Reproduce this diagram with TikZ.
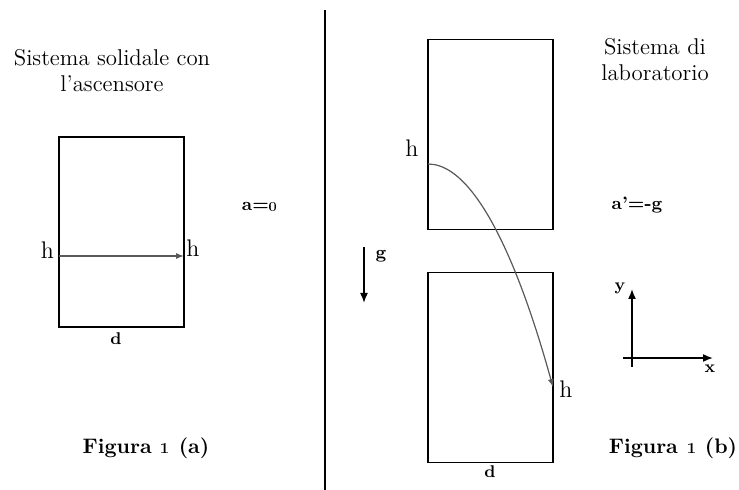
\documentclass[tikz,border=0pt]{standalone}
\usepackage{tikz}
\usetikzlibrary{arrows.meta,positioning}

\begin{document}
\begin{tikzpicture}[
    x=0.5pt, y=-0.5pt,
    >={Latex[length=4pt,width=3pt]},
    cabin/.style={draw, line width=0.8pt, minimum width=62.5pt,
                  minimum height=95pt, inner sep=0pt},
    title/.style={align=center, font=\fontsize{11.4}{13}\selectfont, inner sep=0pt},
    caption/.style={font=\fontsize{10.5}{12}\selectfont\bfseries, inner sep=0pt},
    eqn/.style={font=\fontsize{9}{11}\selectfont\bfseries, inner sep=0pt},
    tag/.style={font=\fontsize{12}{14}\selectfont, inner sep=0pt},
    small/.style={font=\fontsize{8.5}{10}\selectfont\bfseries, inner sep=0pt},
    traj/.style={->, draw=black!65, line width=0.6pt},
    axis/.style={-{Latex[length=5pt,width=4pt]}, line width=0.8pt}
]
    \useasboundingbox (0,0) rectangle (739,490);

    % dividing line
    \coordinate (top) at (325,10);
    \coordinate (bot) at (325,490);
    \draw[line width=0.8pt] (top) -- (bot);

    % (a) elevator frame
    \node[title] (tA) at (112,71) {Sistema solidale con\\l’ascensore};
    \node[cabin] (boxA) at (121.5,232) {};
    \node[small] (dA) at (116,339) {d};
    \node[tag] (hA1) at (47.5,250) {h};
    \node[tag] (hA2) at (193,248) {h};
    \node[eqn] (accA) at (260,206) {a=\oldstylenums{0}};
    \node[caption] (figA) at (146,448) {Figura \oldstylenums{1} (a)};
    \coordinate (inA) at (59,256);
    \coordinate (outA) at (184,256);
    \draw[traj] (inA) -- (outA);

    % (b) lab frame
    \node[title] (tB) at (655,60) {Sistema di\\laboratorio};
    \node[cabin] (boxB1) at (490.5,134.5) {};
    \node[cabin] (boxB2) at (490.5,367.5) {};
    \node[small] (dB) at (490,472) {d};
    \node[tag] (hB1) at (412,148) {h};
    \node[tag] (hB2) at (566,389) {h};
    \node[eqn] (accB) at (637,205) {a’=-g};
    \node[caption] (figB) at (673,448) {Figura \oldstylenums{1} (b)};
    \coordinate (inB) at (428,164);
    \coordinate (outB) at (553,387);
    \draw[traj] (inB) parabola (outB);

    % gravity
    \node[eqn] (gB) at (381,256) {g};
    \coordinate (g0) at (364,247);
    \coordinate (g1) at (364,303);
    \draw[axis] (g0) -- (g1);

    % axes
    \node[small] (yL) at (620,288) {y};
    \node[small] (xL) at (710,369) {x};
    \coordinate (y0) at (632,367);
    \coordinate (y1) at (632,289);
    \coordinate (x0) at (623,358);
    \coordinate (x1) at (713,358);
    \draw[axis] (y0) -- (y1);
    \draw[axis] (x0) -- (x1);
\end{tikzpicture}
\end{document}
